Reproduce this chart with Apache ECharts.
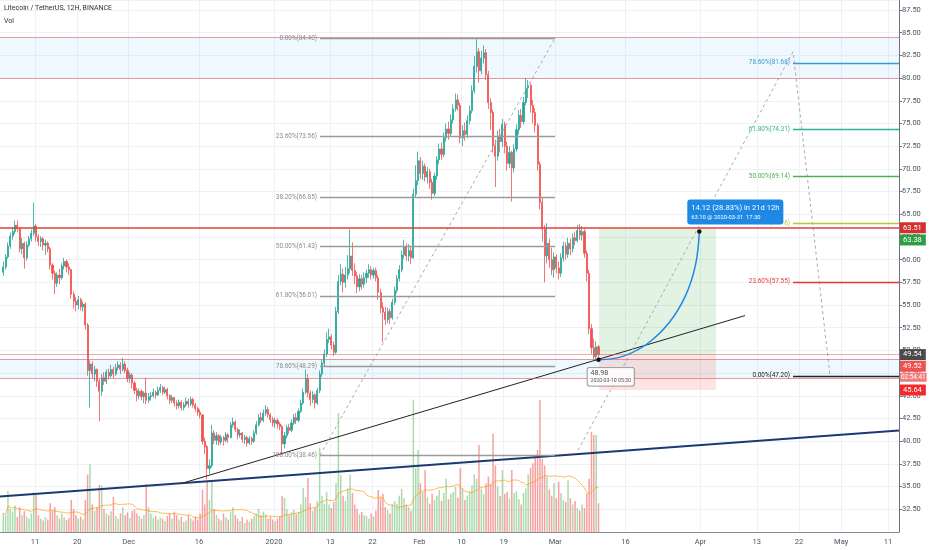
<!DOCTYPE html>
<html><head><meta charset="utf-8">
<script src="https://cdn.jsdelivr.net/npm/echarts@6/dist/echarts.min.js"></script>
<style>html,body{margin:0;padding:0;background:#fff}#c{width:932px;height:550px}</style>
</head><body><div id="c"></div>
<script>
// ---------- DATA ----------
const candleStart = '2019-11-04T05:30';
const firstOpen = 58.6;
const closes = [
59.2,60.3,61.5,62.6,63.1,63.8,63.4,61.2,61.8,60.2,
61.6,62.3,62.9,63.7,62.5,62.0,62.3,61.6,61.8,61.2,
59.4,58.5,57.4,58.3,58.0,59.3,59.8,59.2,58.9,56.2,
55.4,55.0,55.6,54.8,55.1,52.8,47.8,48.5,47.4,47.9,
46.6,45.5,47.0,46.6,47.6,47.2,47.9,47.4,48.1,48.4,
47.9,48.5,47.8,46.9,47.3,46.4,45.6,45.0,45.5,44.9,
45.3,44.5,44.9,45.0,45.4,45.1,45.6,45.9,45.4,45.7,
45.0,44.5,44.8,44.2,43.9,44.3,43.7,44.0,44.4,44.1,
44.6,44.0,43.6,43.2,42.9,40.0,39.4,37.0,37.3,40.9,
40.1,40.6,39.9,40.4,40.1,40.7,40.4,41.8,42.1,41.3,
40.7,40.9,40.2,40.4,39.8,40.3,40.0,40.9,41.8,42.6,
42.3,43.1,43.5,42.9,42.4,42.0,42.3,41.9,41.6,39.7,
40.6,41.5,41.2,42.0,42.6,42.3,43.3,44.2,45.4,46.9,
45.3,44.6,45.1,44.2,45.6,47.4,48.6,49.6,51.2,51.5,
50.6,49.8,54.3,57.6,58.4,57.5,58.3,59.0,60.4,58.8,
58.2,57.0,57.9,57.3,58.0,58.5,58.9,58.3,58.8,58.0,
56.4,54.7,54.2,53.4,54.3,53.6,55.3,56.6,57.9,58.9,
60.5,61.4,60.4,61.0,60.2,67.2,68.7,70.9,69.5,70.3,
69.1,69.7,68.5,67.3,69.2,71.0,72.2,71.6,73.4,74.4,
73.9,75.4,76.6,77.6,77.0,73.4,74.2,73.8,75.3,76.4,
78.6,81.3,82.9,80.8,82.2,82.8,80.4,77.3,76.2,72.6,
71.4,73.6,73.0,74.9,72.5,70.6,71.8,70.1,72.2,74.3,
75.9,75.2,77.3,78.9,79.2,77.0,76.2,74.8,70.5,66.3,
63.4,60.4,61.8,60.0,58.9,60.3,59.1,58.5,60.2,61.5,
60.6,61.8,61.2,62.4,62.1,63.2,62.7,63.1,60.7,58.5,
52.4,50.3,49.3,50.4,49.54];
const highs = [
59.8,60.6,61.9,63.0,63.6,64.3,64.3,63.6,62.4,62.0,
62.0,62.6,63.3,66.3,63.9,62.8,62.6,62.5,62.2,62.0,
61.4,59.6,58.8,58.6,59.0,59.6,60.2,60.0,59.6,59.0,
56.5,55.9,56.0,55.8,55.4,55.3,53.0,48.9,48.8,48.3,
48.0,46.9,47.4,47.6,47.9,48.0,48.4,48.2,48.5,48.8,
48.7,49.2,48.8,48.1,47.6,47.5,46.6,45.9,45.8,45.7,
45.5,47.0,45.3,45.4,45.8,45.6,46.0,46.3,46.1,46.0,
45.9,45.2,45.1,44.9,44.5,44.6,44.5,44.3,44.8,44.7,
44.9,44.8,44.2,43.8,43.5,43.0,40.4,39.6,38.0,41.8,
41.2,41.0,40.8,40.7,40.6,41.0,40.9,42.1,42.6,42.3,
41.5,41.3,41.0,40.7,40.6,40.6,40.5,41.2,42.2,43.0,
43.2,43.5,44.0,43.8,43.1,42.7,42.6,42.5,42.1,41.8,
41.0,41.8,41.9,42.4,43.0,43.1,43.6,44.6,45.8,47.9,
47.4,45.6,45.5,45.3,45.9,47.8,49.0,50.1,52.0,52.4,
51.8,51.0,54.8,58.3,59.5,59.0,59.2,60.5,63.3,61.9,
59.6,58.6,58.4,58.3,58.6,58.9,59.5,59.3,59.1,59.1,
58.3,56.8,55.3,54.8,54.7,54.6,55.7,57.0,58.3,59.4,
61.0,62.2,61.8,61.7,61.4,67.8,70.4,71.9,71.3,70.9,
70.6,70.2,70.0,68.9,69.6,71.4,72.8,72.9,74.0,75.0,
75.2,76.0,77.1,78.3,78.2,77.3,74.8,75.1,75.9,77.0,
79.2,82.4,84.4,83.3,83.0,83.6,83.2,80.8,77.8,76.5,
73.2,74.2,74.4,75.5,75.2,73.0,72.5,72.0,72.7,74.9,
76.5,76.6,77.9,80.0,79.8,79.4,77.6,76.7,75.0,70.8,
66.8,63.8,64.0,62.3,61.3,60.8,60.6,59.8,60.7,62.0,
61.9,62.4,62.3,62.9,63.1,63.8,63.9,63.7,63.4,61.0,
58.9,52.9,51.3,51.0,50.6];
const lows = [
58.2,58.9,60.1,61.2,62.2,62.8,63.0,60.8,60.6,59.0,
59.9,61.4,62.0,62.6,62.0,61.5,61.4,61.0,60.5,60.8,
58.9,57.8,56.2,57.0,57.3,57.8,58.9,58.6,58.3,55.7,
54.6,54.3,54.5,54.4,54.3,52.3,47.2,43.7,46.9,46.6,
46.0,42.2,45.0,46.2,46.3,46.8,47.0,46.9,47.2,47.8,
47.4,47.7,47.5,46.5,46.4,45.8,45.2,44.4,44.6,44.5,
44.2,44.1,44.2,44.5,44.8,44.7,45.0,45.3,45.1,45.2,
44.6,44.1,44.2,43.8,43.5,43.6,43.4,43.4,43.8,43.7,
43.9,43.7,43.2,42.8,42.5,39.6,38.6,35.8,36.4,37.1,
39.7,39.6,39.5,39.6,39.5,39.9,39.8,40.3,41.5,41.0,
40.2,40.4,39.8,39.7,39.4,39.6,39.6,39.8,40.7,41.6,
42.0,42.1,42.8,42.6,42.0,41.6,41.5,41.4,41.2,38.5,
39.2,40.3,40.8,41.0,41.8,41.9,42.1,43.1,44.0,45.2,
44.8,43.9,44.2,43.6,44.0,45.3,47.1,48.2,49.3,50.8,
50.1,49.4,49.6,54.0,57.2,56.4,56.9,57.8,58.5,58.2,
57.3,56.3,56.5,56.7,56.9,57.4,58.0,57.8,57.9,57.6,
55.6,54.1,50.9,52.8,53.0,52.9,53.4,55.0,56.3,57.6,
58.6,60.1,59.9,59.8,59.5,60.1,66.8,68.2,68.9,68.8,
68.6,68.4,67.8,66.6,67.0,68.8,70.5,71.0,71.3,73.0,
73.2,73.6,75.0,76.3,76.4,72.8,72.5,73.1,73.4,74.9,
76.1,78.3,80.6,79.5,80.4,81.6,79.8,76.6,74.3,71.8,
68.0,70.9,71.8,72.4,71.7,69.8,70.1,66.4,69.6,71.9,
73.8,74.5,74.9,77.0,77.8,76.2,75.0,74.0,69.8,65.5,
62.0,57.5,59.6,59.1,58.3,58.0,58.5,57.8,58.1,59.8,
60.0,60.2,60.5,60.8,61.6,61.9,62.2,62.1,60.2,57.6,
51.8,49.6,49.0,48.8,48.98];
const volumes = [
420,380,925,520,460,600,340,560,380,470,
350,300,420,900,850,380,300,260,330,280,
650,480,560,380,300,420,330,270,310,720,
520,380,300,350,280,720,1300,1530,620,480,
560,1060,1050,520,420,380,470,790,360,300,
420,560,380,440,320,480,510,420,360,300,
380,1080,560,420,310,360,280,330,300,250,
360,420,300,460,380,280,340,230,260,380,
300,260,350,280,420,950,620,1130,720,1130,
520,380,300,260,420,330,280,460,560,380,
300,250,340,200,280,230,300,360,420,520,
380,460,400,300,350,280,240,300,360,820,
770,520,380,440,500,400,460,620,990,780,
1220,650,480,560,700,1900,820,640,900,620,
540,680,1100,2680,1290,820,700,980,1290,880,
620,520,400,450,380,360,300,420,350,480,
950,780,860,560,500,420,620,700,640,820,
970,760,620,560,480,2980,1440,1850,1100,900,
1400,780,640,860,720,820,940,700,880,1200,
740,860,900,1020,780,1440,980,720,820,900,
1050,1300,1200,1960,980,860,1100,1250,1080,2210,
1500,1020,820,1400,860,900,760,1400,880,920,
740,620,880,980,1300,1450,1550,1700,1850,2980,
1650,1500,1250,960,820,1100,760,1130,880,720,
680,1170,760,620,700,540,480,620,540,860,
1200,2260,2190,2190,650];

const xTickDates = ['2019-11-11T00:00','2019-11-20T00:00','2019-12-01T00:00','2019-12-16T00:00','2020-01-01T00:00','2020-01-13T00:00','2020-01-22T00:00','2020-02-01T00:00','2020-02-10T00:00','2020-02-19T00:00','2020-03-01T00:00','2020-03-16T00:00','2020-04-01T00:00','2020-04-13T00:00','2020-04-22T00:00','2020-05-01T00:00','2020-05-11T00:00'];
const xTickLabels = ['11','20','Dec','16','2020','13','22','Feb','10','19','Mar','16','Apr','13','22','May','11'];

// drawings
const zoneHigh = [80.0, 84.45];
const zoneLow = [46.9, 49.05];
const levelRes = 63.51;
const levelLast = 49.54;
const fibRetrLevels = ['0.00%','23.60%','38.20%','50.00%','61.80%','78.60%','100.00%'];
const fibRetrPrices = [84.40,73.56,66.85,61.43,56.01,48.29,38.46];
const fibRetrSpan = ['2020-01-10T19:30','2020-02-29T22:45'];
const fibExtLevels = ['78.60%','61.80%','50.00%','38.20%','23.60%','0.00%'];
const fibExtPrices = [81.68,74.31,69.14,63.96,57.55,47.20];
const fibExtStart = '2020-04-20T17:30';
const extPathDates = ['2020-03-05T20:30','2020-04-20T17:30','2020-04-28T15:00'];
const extPathPrices = [39.0,82.9,47.2];
const trendBlack = [['2019-12-13T00:00',35.46],['2020-04-10T12:00',53.84]];
const trendNavy = [['2019-11-03T12:46',33.92],['2020-05-13T08:10',41.19]];
const pos = {start:'2020-03-10T08:00', end:'2020-04-04T07:00', entry:49.52, target:63.38, stop:45.64};
const arcDates = ['2020-03-10T05:30','2020-03-15T13:00','2020-03-20T19:00','2020-03-25T06:30','2020-03-28T18:00','2020-03-30T22:00','2020-03-31T17:30'];
const arcPrices = [48.98,49.37,50.79,53.04,55.98,59.40,63.10];
const measText1 = '14.12 (28.83%) in 21d 12h';
const measText2 = '63.10 @ 2020-03-31  17:30';
const startText1 = '48.98';
const startText2 = '2020-03-10 05:30';
const countdown = '02:54:41';

// ---------- BUILD ----------
const toT = s => new Date(s).getTime();
const H12 = 12*3600*1000;
const T0 = toT(candleStart);
const times = closes.map((_, i) => T0 + i*H12);
const opens = closes.map((c, i) => i === 0 ? firstOpen : closes[i-1]);
const candleData = closes.map((c, i) => [times[i], opens[i], c, Math.min(lows[i], opens[i], c), Math.max(highs[i], opens[i], c)]);
const UP = '#26a69a', DOWN = '#ef5350';
const volData = volumes.map((v, i) => ({value:[times[i], v], itemStyle:{color: closes[i] >= opens[i] ? 'rgba(102,187,106,0.55)' : 'rgba(239,83,80,0.55)'}}));
const volMA = volumes.map((v, i) => { const s = Math.max(0, i-19); const w = volumes.slice(s, i+1); return [times[i], w.reduce((a,b)=>a+b,0)/w.length]; });
const tickTs = xTickDates.map(toT);
const xMin = toT('2019-11-03T12:46'), xMax = toT('2020-05-13T08:10');
const FONT = 'Roboto';
const tag = (text, bg, dy, fs) => ({show:true, position:'end', distance:1, offset:[0, dy||0], formatter:text, color:'#fff', backgroundColor:bg, padding: fs ? [2,1,1,1] : [2,4,1,3], fontSize: fs || 7.5, fontFamily:FONT});
const thinRed = {color:'rgba(214,90,90,0.6)', width:1, type:'solid'};
const hidden = {color:'rgba(0,0,0,0)', width:1};
const extColors = ['#3c98d0','#2fb39b','#4caf50','#b9c63a','#e53935','#222222'];

const fibRetrLines = fibRetrPrices.map((p, k) => [
  {coord:[toT(fibRetrSpan[0]), p], lineStyle:{color:'#9a9a9a', width:1.4, type:'solid'},
   label:{show:true, position:'start', distance:3, formatter: fibRetrLevels[k] + '(' + p.toFixed(2) + ')', color:'#8a8a8a', fontSize:6.4, fontFamily:FONT}},
  {coord:[toT(fibRetrSpan[1]), p]}
]);
const fibExtLines = fibExtPrices.map((p, k) => [
  {coord:[toT(fibExtStart), p], lineStyle:{color:extColors[k], width:1.4, type:'solid'},
   label:{show:true, position:'start', distance:3, formatter: fibExtLevels[k] + '(' + p.toFixed(2) + ')', color:extColors[k], fontSize:6.4, fontFamily:FONT}},
  {coord:[xMax, p]}
]);

const option = {
  animation:false,
  backgroundColor:'#ffffff',
  title:[
    {text:'Litecoin / TetherUS, 12H, BINANCE', left:4, top:5, padding:0, textStyle:{fontSize:7, fontWeight:'normal', color:'#333', fontFamily:FONT}},
    {text:'Vol', left:4, top:18, padding:0, textStyle:{fontSize:7, fontWeight:'normal', color:'#333', fontFamily:FONT}}
  ],
  grid:[{left:0, right:33, top:0, bottom:18}, {left:0, right:33, top:0, bottom:18}],
  xAxis:[
    {type:'value', gridIndex:0, min:xMin, max:xMax, scale:true,
     axisLine:{show:true, onZero:false, lineStyle:{color:'#8a8d96'}},
     axisTick:{show:false, customValues:tickTs},
     axisLabel:{customValues:tickTs, formatter:(v)=>{const k = tickTs.indexOf(v); return k>=0 ? xTickLabels[k] : '';}, color:'#4c525e', fontSize:7.5, fontFamily:FONT, margin:6, hideOverlap:false, showMinLabel:true, showMaxLabel:true},
     splitLine:{show:true, lineStyle:{color:'#eef1f6', width:1}}},
    {type:'value', gridIndex:1, min:xMin, max:xMax, scale:true, show:false}
  ],
  yAxis:[
    {type:'value', gridIndex:0, position:'right', min:30, max:88.6, interval:2.5,
     axisLine:{show:true, lineStyle:{color:'#6f727c'}},
     axisTick:{show:true, length:3, lineStyle:{color:'#6f727c'}},
     axisLabel:{formatter:v=>v.toFixed(2), color:'#4c525e', fontSize:7.5, fontFamily:FONT, margin:3, showMinLabel:false, showMaxLabel:false},
     splitLine:{show:true, lineStyle:{color:'#eef1f6'}}},
    {type:'value', gridIndex:1, min:0, max:12000, show:false}
  ],
  series:[
    {name:'zones', type:'line', xAxisIndex:0, yAxisIndex:0, data:[], z:0, silent:true,
     markArea:{silent:true, data:[
       [{yAxis:zoneHigh[0], itemStyle:{color:'rgba(33,150,243,0.07)'}}, {yAxis:zoneHigh[1]}],
       [{yAxis:zoneLow[0], itemStyle:{color:'rgba(33,150,243,0.07)'}}, {yAxis:zoneLow[1]}],
       [{coord:[toT(pos.start), pos.target], itemStyle:{color:'rgba(76,175,80,0.16)'}}, {coord:[toT(pos.end), pos.entry]}],
       [{coord:[toT(pos.start), pos.entry], itemStyle:{color:'rgba(244,67,54,0.15)'}}, {coord:[toT(pos.end), pos.stop]}]
     ]}},
    {name:'Vol', type:'bar', xAxisIndex:1, yAxisIndex:1, data:volData, barWidth:1.5, z:1, silent:true},
    {name:'VolMA', type:'line', xAxisIndex:1, yAxisIndex:1, data:volMA, showSymbol:false, smooth:false, z:2, silent:true,
     lineStyle:{color:'rgba(255,152,0,0.65)', width:1}},
    {name:'LTCUSDT', type:'candlestick', xAxisIndex:0, yAxisIndex:0, data:candleData, encode:{x:0, y:[1,2,3,4]},
     barWidth:1.6, z:3, silent:true,
     itemStyle:{color:UP, color0:DOWN, borderColor:UP, borderColor0:DOWN, borderWidth:0.8}},
    {name:'navy', type:'line', xAxisIndex:0, yAxisIndex:0, z:4, silent:true, showSymbol:false,
     data:trendNavy.map(d=>[toT(d[0]), d[1]]), lineStyle:{color:'#1b3a73', width:2},
     markLine:{silent:true, symbol:['none','none'], data:[
       {yAxis:zoneHigh[1], lineStyle:thinRed, label:{show:false}},
       {yAxis:zoneHigh[0], lineStyle:thinRed, label:{show:false}},
       {yAxis:levelRes, lineStyle:{color:'#e0403a', width:1.6, type:'solid'}, label:tag(levelRes.toFixed(2), '#d32f2f')},
       {yAxis:levelLast, lineStyle:{color:'rgba(214,90,90,0.5)', width:1, type:'solid'}, label:tag(levelLast.toFixed(2), '#4a4a4a')},
       {yAxis:zoneLow[1], lineStyle:thinRed, label:{show:false}},
       {yAxis:zoneLow[0], lineStyle:thinRed, label:{show:false}},
       {yAxis:pos.target, lineStyle:hidden, label:tag(pos.target.toFixed(2), '#2e9e45', 11)},
       {yAxis:pos.entry, lineStyle:hidden, label:tag(pos.entry.toFixed(2), '#ef5350', 11.5)},
       {yAxis:pos.entry, lineStyle:hidden, label:tag(countdown, '#f07b7b', 22.5, 6.4)},
       {yAxis:pos.stop, lineStyle:hidden, label:tag(pos.stop.toFixed(2), '#f42a2a')}
     ]}},
    {name:'black', type:'line', xAxisIndex:0, yAxisIndex:0, z:4, silent:true, showSymbol:false,
     data:trendBlack.map(d=>[toT(d[0]), d[1]]), lineStyle:{color:'#222', width:1}},
    {name:'fibRetr', type:'line', xAxisIndex:0, yAxisIndex:0, z:4, silent:true, showSymbol:false,
     data:[[toT(fibRetrSpan[0]), fibRetrPrices[6]], [toT(fibRetrSpan[1]), fibRetrPrices[0]]],
     lineStyle:{color:'#aaaaaa', width:1, type:[3,3]},
     markLine:{silent:true, symbol:['none','none'], data:fibRetrLines}},
    {name:'fibExt', type:'line', xAxisIndex:0, yAxisIndex:0, z:4, silent:true, showSymbol:false,
     data:extPathDates.map((d,k)=>[toT(d), extPathPrices[k]]),
     lineStyle:{color:'#aaaaaa', width:1, type:[3,3]},
     markLine:{silent:true, symbol:['none','none'], data:fibExtLines}},
    {name:'arc', type:'line', xAxisIndex:0, yAxisIndex:0, z:6, silent:true, smooth:0.4,
     data:arcDates.map((d,k)=>({value:[toT(d), arcPrices[k]], symbolSize:(k===0||k===arcDates.length-1)?4.5:0})),
     symbol:'circle', showSymbol:true, itemStyle:{color:'#111'},
     lineStyle:{color:'#1e88e5', width:1.5},
     markPoint:{silent:true, symbol:'circle', symbolSize:0, data:[
       {coord:[toT(arcDates[0]), arcPrices[0]],
        label:{show:true, position:'bottom', distance:8, align:'left', offset:[-11,0],
          formatter:'{a|'+startText1+'}\n{b|'+startText2+'}',
          backgroundColor:'rgba(255,255,255,0.85)', borderColor:'#8a8a8a', borderWidth:0.8, borderRadius:2, padding:[1,3,1,3],
          rich:{a:{fontSize:7, color:'#444', lineHeight:9, fontFamily:FONT}, b:{fontSize:5.2, color:'#555', lineHeight:7, fontFamily:FONT}}}},
       {coord:[toT(arcDates[arcDates.length-1]), arcPrices[arcPrices.length-1]],
        label:{show:true, position:'top', distance:7, align:'left', offset:[-12,0],
          formatter:'{a|'+measText1+'}\n{b|'+measText2+'}',
          backgroundColor:'#1e88e5', borderColor:'rgba(255,255,255,0.7)', borderWidth:1, borderRadius:3, padding:[3,4,2,4],
          rich:{a:{fontSize:7.6, color:'#fff', lineHeight:11, fontFamily:FONT}, b:{fontSize:5.8, color:'#fff', lineHeight:9, fontFamily:FONT}}}}
     ]}}
  ]
};
const chart = echarts.init(document.getElementById('c'));
chart.setOption(option);
</script>
</body></html>
